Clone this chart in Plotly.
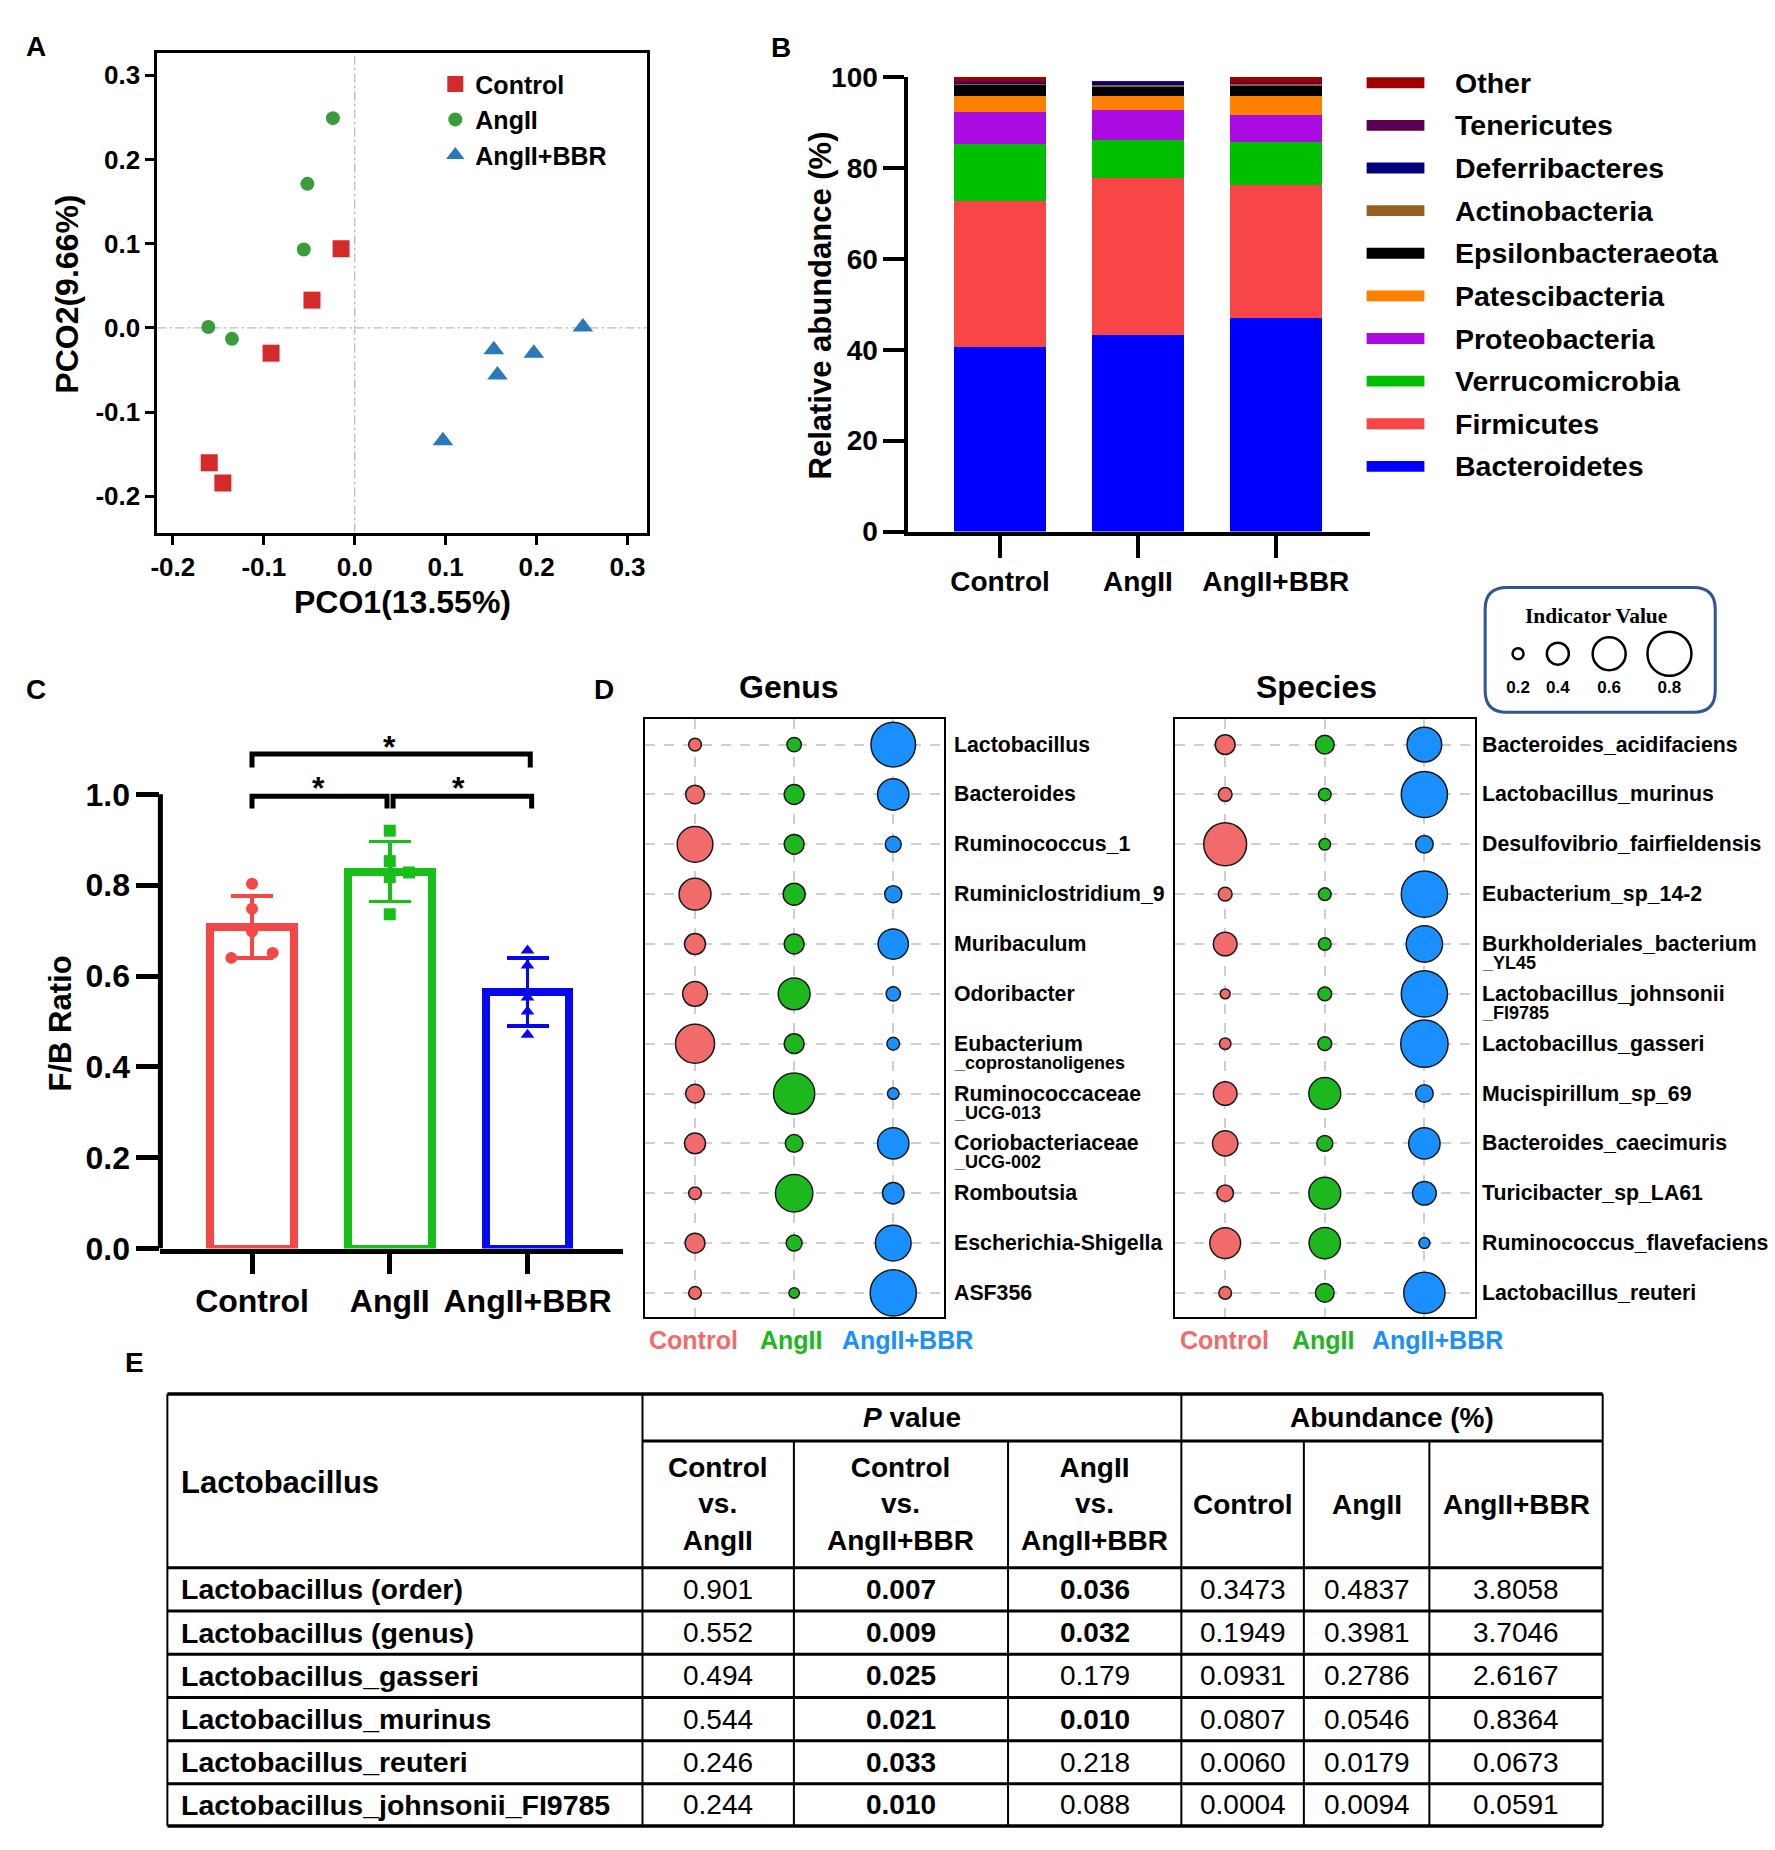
import plotly.graph_objects as go

W, H = 1775, 1850
FONT = "Arial, 'Liberation Sans', Helvetica, sans-serif"
SERIF = "'Times New Roman', 'Liberation Serif', serif"


def fx(x):
    return x / W


def fy(y):
    return 1 - y / H


# ======================= DATA =======================
groups = ["Control", "AngII", "AngII+BBR"]

# ---- Panel A : PCoA scores
pco1_control = [-0.015, -0.047, -0.092, -0.160, -0.145]
pco2_control = [0.094, 0.033, -0.030, -0.160, -0.184]
pco1_angii = [-0.024, -0.052, -0.056, -0.161, -0.135]
pco2_angii = [0.249, 0.171, 0.093, 0.001, -0.013]
pco1_bbr = [0.251, 0.153, 0.197, 0.157, 0.097]
pco2_bbr = [0.001, -0.026, -0.030, -0.056, -0.134]
a_xticks = [-0.2, -0.1, 0.0, 0.1, 0.2, 0.3]
a_yticks = [-0.2, -0.1, 0.0, 0.1, 0.2, 0.3]

# ---- Panel B : phylum relative abundance (%)
phyla = ["Bacteroidetes", "Firmicutes", "Verrucomicrobia", "Proteobacteria",
         "Patescibacteria", "Epsilonbacteraeota", "Actinobacteria",
         "Deferribacteres", "Tenericutes", "Other"]
ab_control = [40.6, 32.2, 12.5, 6.9, 3.7, 2.4, 0.3, 0.2, 0.3, 0.9]
ab_angii = [43.2, 34.6, 8.4, 6.6, 3.1, 2.0, 0.3, 0.7, 0.2, 0.0]
ab_bbr = [47.0, 29.2, 9.5, 6.0, 4.0, 2.2, 0.6, 0.1, 0.3, 1.1]
phyla_colors = ["#0000FF", "#F84545", "#00BF00", "#A90BE0", "#FF8000",
                "#000000", "#946022", "#00007F", "#5A0050", "#A00000"]
b_yticks = [0, 20, 40, 60, 80, 100]

# ---- Panel C : F/B ratio
fb_control = [0.803, 0.748, 0.698, 0.640, 0.651]
fb_angii = [0.920, 0.853, 0.818, 0.828, 0.736]
fb_bbr = [0.656, 0.623, 0.553, 0.522, 0.471]
fb_jitter_control = [0, 0, 0, -0.15, 0.15]
fb_jitter_angii = [0, 0, 0, 0.14, 0]
fb_jitter_bbr = [0, 0, 0, 0, 0]
fb_mean = [0.708, 0.830, 0.565]
fb_sd = [0.068, 0.066, 0.075]
c_yticks = [0.0, 0.2, 0.4, 0.6, 0.8, 1.0]

# ---- Panel D : indicator values
genus_labels = ["Lactobacillus", "Bacteroides", "Ruminococcus_1", "Ruminiclostridium_9",
                "Muribaculum", "Odoribacter", "Eubacterium\n_coprostanoligenes",
                "Ruminococcaceae\n_UCG-013", "Coriobacteriaceae\n_UCG-002", "Romboutsia",
                "Escherichia-Shigella", "ASF356"]
genus_iv_control = [0.23, 0.34, 0.65, 0.58, 0.38, 0.45, 0.71, 0.34, 0.38, 0.23, 0.36, 0.23]
genus_iv_angii = [0.26, 0.36, 0.36, 0.40, 0.36, 0.58, 0.36, 0.75, 0.32, 0.68, 0.29, 0.19]
genus_iv_bbr = [0.81, 0.57, 0.29, 0.31, 0.55, 0.26, 0.23, 0.21, 0.57, 0.39, 0.65, 0.84]

species_labels = ["Bacteroides_acidifaciens", "Lactobacillus_murinus",
                  "Desulfovibrio_fairfieldensis", "Eubacterium_sp_14-2",
                  "Burkholderiales_bacterium\n_YL45", "Lactobacillus_johnsonii\n_FI9785",
                  "Lactobacillus_gasseri", "Mucispirillum_sp_69", "Bacteroides_caecimuris",
                  "Turicibacter_sp_LA61", "Ruminococcus_flavefaciens", "Lactobacillus_reuteri"]
species_iv_control = [0.36, 0.25, 0.78, 0.25, 0.43, 0.18, 0.21, 0.43, 0.46, 0.30, 0.56, 0.23]
species_iv_angii = [0.34, 0.23, 0.21, 0.23, 0.23, 0.25, 0.25, 0.58, 0.29, 0.58, 0.57, 0.34]
species_iv_bbr = [0.63, 0.84, 0.32, 0.84, 0.66, 0.84, 0.86, 0.32, 0.57, 0.43, 0.20, 0.75]

iv_legend_values = [0.2, 0.4, 0.6, 0.8]

# ---- Panel E : table
tbl_rows = ["Lactobacillus (order)", "Lactobacillus (genus)", "Lactobacillus_gasseri",
            "Lactobacillus_murinus", "Lactobacillus_reuteri", "Lactobacillus_johnsonii_FI9785"]
p_ctrl_vs_angii = ["0.901", "0.552", "0.494", "0.544", "0.246", "0.244"]
p_ctrl_vs_bbr = ["0.007", "0.009", "0.025", "0.021", "0.033", "0.010"]
p_angii_vs_bbr = ["0.036", "0.032", "0.179", "0.010", "0.218", "0.088"]
abund_control = ["0.3473", "0.1949", "0.0931", "0.0807", "0.0060", "0.0004"]
abund_angii = ["0.4837", "0.3981", "0.2786", "0.0546", "0.0179", "0.0094"]
abund_bbr = ["3.8058", "3.7046", "2.6167", "0.8364", "0.0673", "0.0591"]

# ======================= FIGURE =======================
fig = go.Figure()
shapes = []
annots = []


def txt(x, y, text, size, color="black", bold=True, xanchor="center", yanchor="middle",
        family=FONT, angle=0, xref="paper", yref="paper", yshift=0):
    annots.append(dict(x=x, y=y, xref=xref, yref=yref, text=text, showarrow=False,
                       xanchor=xanchor, yanchor=yanchor, textangle=angle, yshift=yshift,
                       font=dict(family=family, size=size, color=color,
                                 weight="bold" if bold else "normal")))


# ---------- Panel A ----------
a_cols = ["#D42A2A", "#3A9C3A", "#2A7AB8"]
a_syms = ["square", "circle", "triangle-up"]
a_size = [17, 14, 18]
for g, xs, ys, c, s, sz in zip(groups, [pco1_control, pco1_angii, pco1_bbr],
                               [pco2_control, pco2_angii, pco2_bbr], a_cols, a_syms, a_size):
    fig.add_trace(go.Scatter(x=xs, y=ys, mode="markers", name=g, xaxis="x", yaxis="y",
                             marker=dict(symbol=s, size=sz, color=c, line=dict(width=0)),
                             showlegend=True))
shapes.append(dict(type="line", xref="x", yref="y domain", x0=0, x1=0, y0=0, y1=1,
                   line=dict(color="#BDBDBD", width=1.3, dash="dashdot"), layer="below"))
shapes.append(dict(type="line", xref="x domain", yref="y", x0=0, x1=1, y0=0, y1=0,
                   line=dict(color="#BDBDBD", width=1.3, dash="dashdot"), layer="below"))
txt(fx(397), fy(598), "PCO1(13.55%)", 32)
txt(fx(60), fy(284), "PCO2(9.66%)", 32, angle=-90)

# ---------- Panel B ----------
for ph, c, v0, v1, v2 in zip(phyla, phyla_colors, ab_control, ab_angii, ab_bbr):
    fig.add_trace(go.Bar(x=[0, 1, 2], y=[v0, v1, v2], name=ph, width=0.664,
                         marker=dict(color=c, line=dict(width=0)),
                         xaxis="x2", yaxis="y2", showlegend=False))
for k, (ph, c) in enumerate(zip(phyla[::-1], phyla_colors[::-1])):
    yc = 69 + k * 43.4
    shapes.append(dict(type="rect", xref="paper", yref="paper", x0=fx(1365), x1=fx(1423),
                       y0=fy(yc + 5.5), y1=fy(yc - 5.5), fillcolor=c, line=dict(width=0)))
    txt(fx(1452), fy(yc), ph, 28.5, xanchor="left")
txt(fx(817), fy(296), "Relative abundance (%)", 31, angle=-90)

# ---------- Panel C ----------
c_cols = ["#F44848", "#18BF18", "#0808F0"]
c_syms = ["circle", "square", "triangle-up"]
for i, (g, c, pts, jit, s) in enumerate(zip(groups, c_cols, [fb_control, fb_angii, fb_bbr],
                                           [fb_jitter_control, fb_jitter_angii, fb_jitter_bbr],
                                           c_syms)):
    fig.add_trace(go.Bar(x=[i], y=[fb_mean[i]], width=0.608, xaxis="x3", yaxis="y3",
                         marker=dict(color="white", line=dict(color=c, width=8)),
                         error_y=dict(type="data", array=[fb_sd[i]], color=c,
                                      thickness=3.5, width=21),
                         showlegend=False))
    fig.add_trace(go.Scatter(x=[i + j for j in jit], y=pts, mode="markers", xaxis="x3", yaxis="y3",
                             marker=dict(symbol=s, size=12, color=c), showlegend=False))
shapes.append(dict(type="line", xref="paper", yref="y3", x0=fx(154), x1=fx(154), y0=0, y1=1.0,
                   line=dict(color="black", width=5)))
brackets = [(0, 2.02, 1.089, 1.059), (0, 0.98, 0.996, 0.969), (1.024, 2.03, 0.996, 0.969)]
for xa, xb, yt, yb in brackets:
    shapes.append(dict(type="path", xref="x3", yref="y3",
                       path=f"M {xa},{yb} L {xa},{yt} L {xb},{yt} L {xb},{yb}",
                       line=dict(color="black", width=5)))
for xs_, ys_ in [(1.0, 1.105), (0.48, 1.015), (1.5, 1.015)]:
    txt(xs_, ys_, "*", 32, xref="x3", yref="y3")
txt(fx(54), fy(1027), "F/B Ratio", 31, angle=-90)

# ---------- Panel D ----------
d_cols = ["#F26B6B", "#1DB81D", "#1A8FFF"]
for ax, labels, ivs in [("4", genus_labels, [genus_iv_control, genus_iv_angii, genus_iv_bbr]),
                        ("5", species_labels, [species_iv_control, species_iv_angii, species_iv_bbr])]:
    for j, (c, iv) in enumerate(zip(d_cols, ivs)):
        fig.add_trace(go.Scatter(x=[j] * len(iv), y=list(range(len(iv))), mode="markers",
                                 xaxis="x" + ax, yaxis="y" + ax, showlegend=False,
                                 marker=dict(size=[v * 55 for v in iv], color=c, opacity=1,
                                             line=dict(color="#1A1A1A", width=1.5))))
    lx = 949 if ax == "4" else 1479
    for i, lab in enumerate(labels):
        parts = lab.split("\n")
        txt(fx(lx), i, parts[0], 21.3, xanchor="left", yref="y" + ax)
        if len(parts) > 1:
            txt(fx(lx), i, parts[1], 18, xanchor="left", yref="y" + ax, yshift=-19)

txt(fx(785), fy(684), "Genus", 32)
txt(fx(1315), fy(684), "Species", 32)
for xs_, g, c in zip([689, 788, 904], groups, d_cols):
    txt(fx(xs_), fy(1349), g, 25, color=c)
for xs_, g, c in zip([1222, 1322, 1436], groups, d_cols):
    txt(fx(xs_), fy(1349), g, 25, color=c)

# indicator value key
leg_pos = [0.143, 0.316, 0.539, 0.801]
fig.add_trace(go.Scatter(x=leg_pos, y=[0.47] * 4, mode="markers", xaxis="x6", yaxis="y6",
                         showlegend=False,
                         marker=dict(size=[v * 55 for v in iv_legend_values], color="rgba(0,0,0,0)",
                                     opacity=1, line=dict(color="black", width=2.5))))
fig.add_trace(go.Scatter(x=leg_pos, y=[0.19] * 4, mode="text", xaxis="x6", yaxis="y6",
                         showlegend=False, text=[f"{v:.1f}" for v in iv_legend_values],
                         textfont=dict(family=FONT, size=17, color="black", weight="bold")))
txt(fx(1595), fy(612), "Indicator Value", 21.5, family=SERIF)


def rounded_rect(x0, y0, x1, y1, r):
    return (f"M {fx(x0 + r)},{fy(y0)} L {fx(x1 - r)},{fy(y0)} Q {fx(x1)},{fy(y0)} {fx(x1)},{fy(y0 + r)} "
            f"L {fx(x1)},{fy(y1 - r)} Q {fx(x1)},{fy(y1)} {fx(x1 - r)},{fy(y1)} "
            f"L {fx(x0 + r)},{fy(y1)} Q {fx(x0)},{fy(y1)} {fx(x0)},{fy(y1 - r)} "
            f"L {fx(x0)},{fy(y0 + r)} Q {fx(x0)},{fy(y0)} {fx(x0 + r)},{fy(y0)} Z")


shapes.append(dict(type="path", xref="paper", yref="paper", path=rounded_rect(1484, 583, 1715, 710, 22),
                   line=dict(color="#2F5597", width=3)))

# ---------- Panel E : table ----------
col_edges = [161, 638, 790, 1005, 1179, 1302, 1428, 1602]
row_edges = [1404, 1452, 1581, 1625, 1669, 1713, 1757, 1801, 1844]


def hline(y, x0, x1, w=3):
    shapes.append(dict(type="line", xref="paper", yref="paper", x0=fx(x0), x1=fx(x1),
                       y0=fy(y), y1=fy(y), line=dict(color="black", width=w)))


def vline(x, y0, y1, w=2):
    shapes.append(dict(type="line", xref="paper", yref="paper", x0=fx(x), x1=fx(x),
                       y0=fy(y0), y1=fy(y1), line=dict(color="black", width=w)))


hline(row_edges[0], col_edges[0], col_edges[-1], 3.5)
hline(row_edges[1], col_edges[1], col_edges[-1], 3)
for y in row_edges[2:-1]:
    hline(y, col_edges[0], col_edges[-1], 3)
hline(row_edges[-1], col_edges[0], col_edges[-1], 3.5)
for x in [col_edges[0], col_edges[1], col_edges[4], col_edges[-1]]:
    vline(x, row_edges[0], row_edges[-1])
for x in [col_edges[2], col_edges[3], col_edges[5], col_edges[6]]:
    vline(x, row_edges[1], row_edges[-1])

TF = 28
txt(fx(173), fy(1494), "Lactobacillus", 31, xanchor="left")
txt(fx((col_edges[1] + col_edges[4]) / 2), fy((row_edges[0] + row_edges[1]) / 2), "<i>P</i> value", TF)
txt(fx((col_edges[4] + col_edges[7]) / 2), fy((row_edges[0] + row_edges[1]) / 2), "Abundance (%)", TF)
sub_heads = ["Control<br>vs.<br>AngII", "Control<br>vs.<br>AngII+BBR", "AngII<br>vs.<br>AngII+BBR",
             "Control", "AngII", "AngII+BBR"]
hc = (row_edges[1] + row_edges[2]) / 2
for k, t in enumerate(sub_heads):
    txt(fx((col_edges[k + 1] + col_edges[k + 2]) / 2), fy(hc), t, TF)
cols_data = [p_ctrl_vs_angii, p_ctrl_vs_bbr, p_angii_vs_bbr, abund_control, abund_angii, abund_bbr]
for r, name in enumerate(tbl_rows):
    yc = (row_edges[r + 2] + row_edges[r + 3]) / 2
    txt(fx(173), fy(yc), name, 28.5, xanchor="left")
    for k, col in enumerate(cols_data):
        val = col[r]
        bold = k < 3 and float(val) < 0.05
        txt(fx((col_edges[k + 1] + col_edges[k + 2]) / 2), fy(yc), val, TF, bold=bold)

# ---------- panel letters ----------
for L, x, y in [("A", 29, 32), ("B", 777, 33), ("C", 29, 687), ("D", 599, 687), ("E", 128, 1372)]:
    txt(fx(x), fy(y), L, 28)

# ======================= AXES =======================
ax_common = dict(showgrid=False, zeroline=False, linecolor="black", tickcolor="black")
bold = lambda s: dict(family=FONT, size=s, color="black", weight="bold")
dgrid = dict(showgrid=True, gridcolor="#CFCFCF", gridwidth=2, griddash="10px,9px",
             zeroline=False, showline=True, mirror=True, linecolor="black", linewidth=2,
             showticklabels=False, ticks="")

fig.update_layout(
    width=W, height=H, margin=dict(l=0, r=0, t=0, b=0),
    paper_bgcolor="white", plot_bgcolor="rgba(0,0,0,0)",
    barmode="stack", font=dict(family=FONT, color="black"),
    showlegend=True,
    legend=dict(x=fx(430), y=fy(47), xanchor="left", yanchor="top", bgcolor="rgba(0,0,0,0)",
                font=bold(25), tracegroupgap=0, traceorder="normal"),
    xaxis=dict(domain=[fx(151), fx(643)], range=[-0.217, 0.322], anchor="y",
               tickvals=a_xticks, ticktext=[f"{v:.1f}" for v in a_xticks],
               ticks="outside", ticklen=9, tickwidth=2.5, showline=True, mirror=True,
               linewidth=3, tickfont=bold(26), **ax_common),
    yaxis=dict(domain=[fy(527), fy(39)], range=[-0.243, 0.326], anchor="x",
               tickvals=a_yticks, ticktext=[f"{v:.1f}" for v in a_yticks],
               ticks="outside", ticklen=9, tickwidth=2.5, showline=True, mirror=True,
               linewidth=3, tickfont=bold(26), **ax_common),
    xaxis2=dict(domain=[fx(905), fx(1368)], range=[-0.664, 2.68], anchor="y2",
                tickvals=[0, 1, 2], ticktext=groups, ticks="outside", ticklen=22, tickwidth=4,
                showline=True, linewidth=4, tickfont=bold(28), **ax_common),
    yaxis2=dict(domain=[fy(526), fy(63)], range=[0, 100], anchor="x2",
                tickvals=b_yticks, ticks="outside", ticklen=21, tickwidth=4,
                showline=True, linewidth=4, tickfont=bold(28), **ax_common),
    xaxis3=dict(domain=[fx(154), fx(618)], range=[-0.665, 2.69], anchor="y3",
                tickvals=[0, 1, 2], ticktext=groups, ticks="outside", ticklen=20, tickwidth=5,
                showline=True, linewidth=5, tickfont=bold(32), **ax_common),
    yaxis3=dict(domain=[fy(1256), fy(701)], range=[0, 1.2], anchor="x3",
                tickvals=c_yticks, ticktext=[f"{v:.1f}" for v in c_yticks],
                ticks="outside", ticklen=23, tickwidth=5, showline=False,
                tickfont=bold(32), **ax_common),
    xaxis4=dict(domain=[fx(641), fx(941)], range=[-0.5, 2.515], anchor="y4",
                tickvals=[0, 1, 2], **dgrid),
    yaxis4=dict(domain=[fy(1326), fy(717)], range=[11.49, -0.51], anchor="x4",
                tickvals=list(range(12)), **dgrid),
    xaxis5=dict(domain=[fx(1173), fx(1474)], range=[-0.5, 2.51], anchor="y5",
                tickvals=[0, 1, 2], **dgrid),
    yaxis5=dict(domain=[fy(1326), fy(717)], range=[11.49, -0.51], anchor="x5",
                tickvals=list(range(12)), **dgrid),
    xaxis6=dict(domain=[fx(1484), fx(1715)], range=[0, 1], anchor="y6", visible=False),
    yaxis6=dict(domain=[fy(710), fy(583)], range=[0, 1], anchor="x6", visible=False),
    shapes=shapes, annotations=annots,
)

fig.write_html("out.html", config={"displayModeBar": False},
               post_script="document.body.style.margin='0px';document.body.style.overflow='hidden';")
